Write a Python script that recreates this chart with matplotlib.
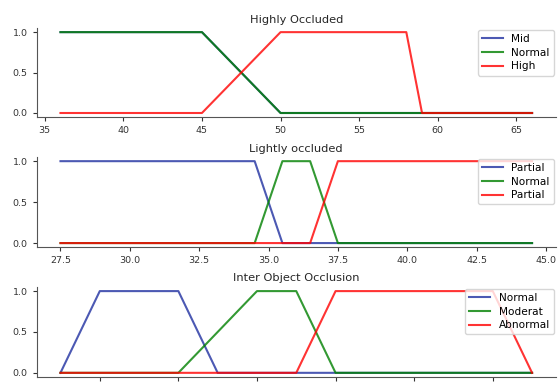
import numpy as np
import matplotlib
matplotlib.use("Agg")
import matplotlib.pyplot as plt

# Highly Occluded
x1 = [36, 45, 50, 58, 59, 66]
mid1 = [1, 1, 0, 0, 0, 0]
normal1 = [1, 1, 0, 0, 0, 0]
high1 = [0, 0, 1, 1, 0, 0]
labels1 = ["Mid", "Normal", "High"]

# Lightly occluded
x2 = [27.5, 34.5, 35.5, 36.5, 37.5, 44.5]
partial2 = [1, 1, 0, 0, 0, 0]
normal2 = [0, 0, 1, 1, 0, 0]
partial2b = [0, 0, 0, 0, 1, 1]
labels2 = ["Partial", "Normal", "Partial"]

# Inter Object Occlusion
x3_normal = [13, 14, 16, 17, 25]
normal3 = [0, 1, 1, 0, 0]
x3_moderat = [13, 16, 18, 19, 20, 25]
moderat3 = [0, 0, 1, 1, 0, 0]
x3_abnormal = [13, 19, 20, 24, 25]
abnormal3 = [0, 0, 1, 1, 0]
labels3 = ["Normal", "Moderat", "Abnormal"]

titles = ["Highly Occluded", "Lightly occluded", "Inter Object Occlusion"]

fig = plt.figure(figsize=(5.59, 3.85), dpi=100)
left, right = 0.066, 0.994
boxes = [(0.696, 0.927), (0.358, 0.592), (0.021, 0.2545)]
data = [
    ([x1, x1, x1], [mid1, normal1, high1], labels1),
    ([x2, x2, x2], [partial2, normal2, partial2b], labels2),
    ([x3_normal, x3_moderat, x3_abnormal], [normal3, moderat3, abnormal3], labels3),
]
colors = ["#1f2fa0", "g", "r"]
for (b, t), (xs, ys, labs), title in zip(boxes, data, titles):
    ax = fig.add_axes([left, b, right - left, t - b])
    for x, y, c, lab in zip(xs, ys, colors, labs):
        ax.plot(x, y, color=c, linewidth=1.5, alpha=0.8, label=lab)
    ax.set_title(title, fontsize=8.2, pad=4, color="#262626")
    ax.tick_params(labelsize=6.8, length=3, width=0.8, colors="#333333")
    ax.set_yticks([0, 0.5, 1.0])
    ax.spines["top"].set_visible(False)
    ax.spines["right"].set_visible(False)
    for s in ("left", "bottom"):
        ax.spines[s].set_color("#555555")
    ax.legend(loc="upper right", fontsize=7.6, handlelength=2.0,
              borderaxespad=0.15, labelspacing=0.35)

fig.savefig("out.png", dpi=100)
